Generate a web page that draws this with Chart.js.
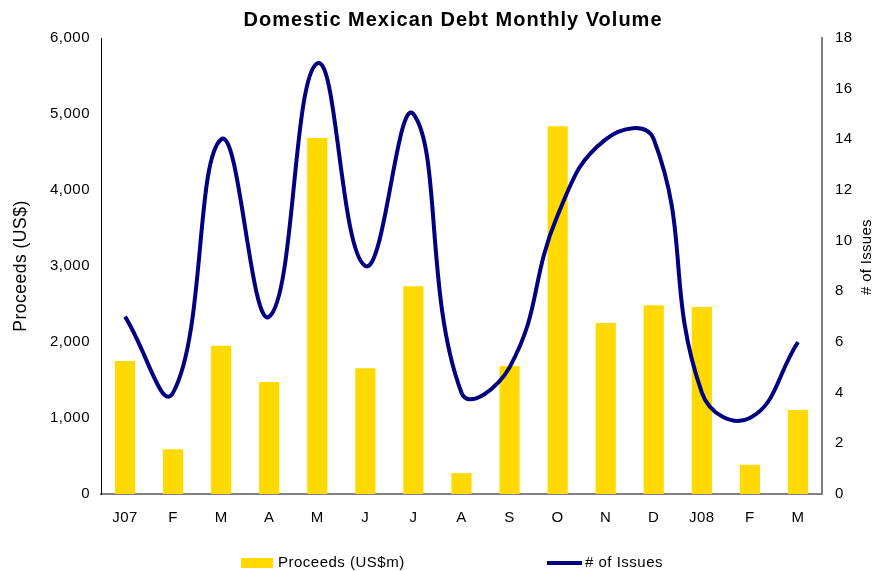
<!DOCTYPE html>
<html>
<head>
<meta charset="utf-8">
<script src="https://cdn.jsdelivr.net/npm/chart.js@4.4.1/dist/chart.umd.min.js"></script>
<style>
  html, body { margin: 0; padding: 0; background: #fff; }
  canvas { display: block; }
</style>
</head>
<body>
<canvas id="debtChart" width="877" height="571"></canvas>
<script>
// months Jan 2007 - Mar 2008
const months = ["J07", "F", "M", "A", "M", "J", "J", "A", "S", "O", "N", "D", "J08", "F", "M"];
const proceeds = [1750, 590, 1950, 1475, 4685, 1655, 2735, 275, 1685, 4840, 2250, 2485, 2460, 385, 1105];
const issues = [7, 4, 14, 7, 17, 9, 15, 4, 5, 11, 14, 14, 4, 3, 6];
const leftTicks = [0, 1000, 2000, 3000, 4000, 5000, 6000];
const rightTicks = [0, 2, 4, 6, 8, 10, 12, 14, 16, 18];

const chartTitle = "Domestic Mexican Debt Monthly Volume";
const rightTitle = "# of Issues";

const FONT = '"Liberation Sans", Arial, sans-serif';

// the original text renders a little wider, so space letters slightly
const textSpacing = {
  id: "textSpacing",
  beforeDraw(chart) {
    chart.ctx.letterSpacing = "0.5px";
  }
};

// title, right axis title (reads bottom-to-top) and the spread-out legend
const extras = {
  id: "extras",
  afterDraw(chart) {
    const ctx = chart.ctx;
    const bars = chart.data.datasets[1];
    const line = chart.data.datasets[0];
    ctx.save();
    ctx.fillStyle = "#000";
    ctx.textBaseline = "middle";
    ctx.textAlign = "center";

    ctx.letterSpacing = "1px";
    ctx.font = "bold 20px " + FONT;
    ctx.fillText(chartTitle, 453, 20);

    ctx.letterSpacing = "0.3px";
    ctx.save();
    ctx.translate(867, 257);
    ctx.rotate(-Math.PI / 2);
    ctx.font = "15px " + FONT;
    ctx.fillText(rightTitle, 0, 0);
    ctx.restore();

    ctx.letterSpacing = "0.5px";
    ctx.font = "15px " + FONT;
    ctx.textAlign = "left";
    ctx.fillStyle = bars.backgroundColor;
    ctx.fillRect(241, 558, 32, 10);
    ctx.fillStyle = "#000";
    ctx.fillText(bars.label, 278, 563);

    ctx.strokeStyle = line.borderColor;
    ctx.lineWidth = 4;
    ctx.beginPath();
    ctx.moveTo(547, 563);
    ctx.lineTo(582, 563);
    ctx.stroke();
    ctx.fillText(line.label, 585, 563);
    ctx.restore();
  }
};

new Chart(document.getElementById("debtChart"), {
  type: "bar",
  data: {
    labels: months,
    datasets: [
      {
        type: "line",
        label: "# of Issues",
        data: issues,
        yAxisID: "y1",
        borderColor: "#000080",
        borderWidth: 4,
        pointRadius: 0,
        tension: 0.45,
        fill: false,
        order: 0
      },
      {
        type: "bar",
        label: "Proceeds (US$m)",
        data: proceeds,
        yAxisID: "y",
        backgroundColor: "#FFD900",
        barPercentage: 0.42,
        categoryPercentage: 1,
        order: 1
      }
    ]
  },
  options: {
    responsive: false,
    animation: false,
    layout: { padding: { top: 38, left: 0, right: 0, bottom: 0 } },
    plugins: {
      legend: { display: false },
      tooltip: { enabled: false },
      title: { display: false }
    },
    scales: {
      x: {
        grid: { display: false, drawTicks: false },
        border: { display: true, color: "#808080", width: 2 },
        ticks: { color: "#000", font: { family: FONT, size: 15 }, padding: 15, maxRotation: 0 },
        afterFit: s => { s.height = 77; }
      },
      y: {
        position: "left",
        min: 0,
        max: 6000,
        grid: { display: false, drawTicks: false },
        border: { display: true, color: "#000", width: 1 },
        afterBuildTicks: s => { s.ticks = leftTicks.map(v => ({ value: v })); },
        ticks: {
          color: "#000",
          font: { family: FONT, size: 15 },
          padding: 11,
          callback: v => v.toLocaleString("en-US")
        },
        title: {
          display: true,
          text: "Proceeds (US$)",
          color: "#000",
          font: { family: FONT, size: 17.5, lineHeight: 1 },
          padding: { top: 12, bottom: 0 }
        },
        afterFit: s => { s.width = 101; }
      },
      y1: {
        position: "right",
        min: 0,
        max: 18,
        grid: { display: false, drawTicks: false },
        border: { display: true, color: "#808080", width: 2 },
        afterBuildTicks: s => { s.ticks = rightTicks.map(v => ({ value: v })); },
        ticks: { color: "#000", font: { family: FONT, size: 15 }, padding: 13 },
        afterFit: s => { s.width = 55; }
      }
    }
  },
  plugins: [textSpacing, extras]
});
</script>
</body>
</html>
